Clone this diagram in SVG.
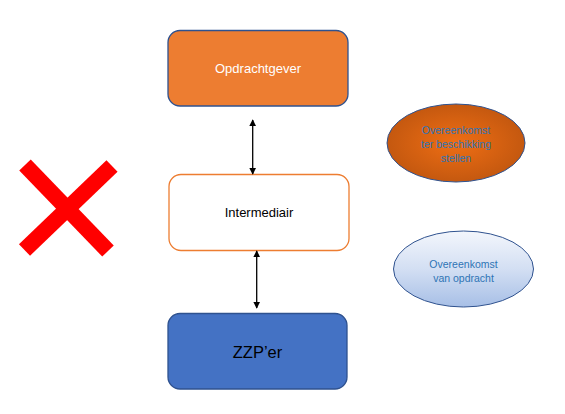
<svg xmlns="http://www.w3.org/2000/svg" width="565" height="414" viewBox="0 0 565 414">
<defs>
<style>
.box{stroke-width:1.3}
.t{font-family:"Liberation Sans","Open Sans",sans-serif;text-anchor:middle}
.lbl{font-size:10.5px;fill:#2e74b5}
.conn{stroke:#000;stroke-width:1.3;fill:none}
</style>
<marker id="ah" viewBox="0 0 10 10" refX="9" refY="5" markerWidth="7" markerHeight="7" orient="auto-start-reverse" markerUnits="userSpaceOnUse">
<path d="M0,0 L10,5 L0,10 Z" fill="#000"/>
</marker>
<radialGradient id="og" cx="50%" cy="50%" r="55%">
<stop offset="0" stop-color="#ef6e14"/>
<stop offset="1" stop-color="#c0560f"/>
</radialGradient>
<linearGradient id="bg" x1="0" y1="0" x2="0" y2="1">
<stop offset="0" stop-color="#f3f6fc"/>
<stop offset="0.5" stop-color="#d3dff3"/>
<stop offset="1" stop-color="#a7bfe6"/>
</linearGradient>
</defs>
<rect width="565" height="414" fill="#fff"/>
<g id="opdrachtgever">
<rect class="box" x="168" y="30.5" width="180" height="75.5" rx="12" fill="#ed7d31" stroke="#2f528f"/>
<text class="t" x="258" y="73" font-size="13" fill="#fff">Opdrachtgever</text>
</g>
<g id="intermediair">
<rect class="box" x="169" y="174.5" width="180" height="76" rx="12" fill="#fff" stroke="#ed7d31"/>
<text class="t" x="259" y="217" font-size="13" fill="#000">Intermediair</text>
</g>
<g id="zzper">
<rect class="box" x="168" y="313.5" width="179" height="75.5" rx="12" fill="#4472c4" stroke="#2f528f"/>
<text class="t" x="257.5" y="358" font-size="16.5" fill="#000">ZZP’er</text>
</g>
<g id="overeenkomst-ter-beschikking">
<ellipse cx="456" cy="143" rx="69" ry="39" fill="url(#og)" stroke="#2f528f" stroke-width="1"/>
<text class="t lbl" x="456" y="134">Overeenkomst</text>
<text class="t lbl" x="456" y="148">ter beschikking</text>
<text class="t lbl" x="456" y="162">stellen</text>
</g>
<g id="overeenkomst-van-opdracht">
<ellipse cx="463.5" cy="269" rx="70" ry="38" fill="url(#bg)" stroke="#2f528f" stroke-width="1"/>
<text class="t lbl" x="463.5" y="268">Overeenkomst</text>
<text class="t lbl" x="463.5" y="282">van opdracht</text>
</g>
<g id="cross">
<line x1="25" y1="165" x2="108" y2="251" stroke="#ff0000" stroke-width="16"/>
<line x1="112" y1="166" x2="24.5" y2="250" stroke="#ff0000" stroke-width="16"/>
</g>
<g id="connectors">
<line class="conn" x1="252.7" y1="120" x2="252.7" y2="174" marker-start="url(#ah)" marker-end="url(#ah)"/>
<line class="conn" x1="256.7" y1="251" x2="256.7" y2="308" marker-start="url(#ah)" marker-end="url(#ah)"/>
</g>
</svg>
